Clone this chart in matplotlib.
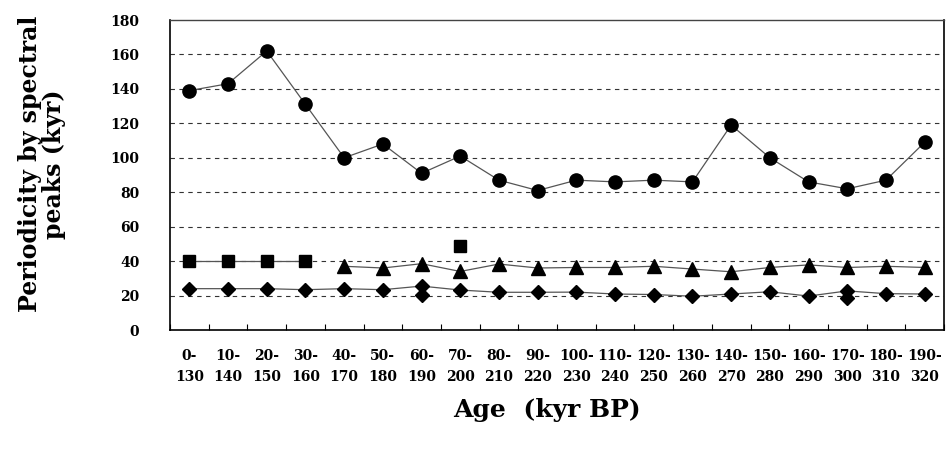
import matplotlib
matplotlib.use("Agg")
import matplotlib.pyplot as plt
import numpy as np

categories = ["0-\n130", "10-\n140", "20-\n150", "30-\n160", "40-\n170", "50-\n180",
              "60-\n190", "70-\n200", "80-\n210", "90-\n220", "100-\n230", "110-\n240",
              "120-\n250", "130-\n260", "140-\n270", "150-\n280", "160-\n290", "170-\n300",
              "180-\n310", "190-\n320"]

circles = [139, 143, 162, 131, 100, 108, 91, 101, 87, 81, 87, 86, 87, 86, 119, 100, 86, 82, 87, 109]
squares_idx = [0, 1, 2, 3]
squares = [40, 40, 40, 40]
square_extra_idx = [7]
square_extra = [48.5]
triangles_idx = list(range(4, 20))
triangles = [37, 36, 38.5, 34, 38.3, 36, 36.3, 36.3, 37, 35.4, 33.8, 36.3, 37.8, 36.3, 37, 36.3]
diamonds = [24, 24, 24, 23.4, 24, 23.4, 25.5, 23.2, 21.9, 21.9, 22, 20.9, 20.6, 19.6, 20.9,
            22.2, 19.7, 22.7, 21.1, 20.9]
diamond_extra_idx = [6, 17]
diamond_extra = [20.2, 18.5]

yticks = [0, 20, 40, 60, 80, 100, 120, 140, 160, 180]

plt.rcParams['font.family'] = ['DejaVu Serif']
plt.rcParams['font.weight'] = 'bold'

fig = plt.figure(figsize=(9.46, 4.53), dpi=100)
ax = fig.add_axes([170/946, 1-330/453, 774/946, 310/453])

x = np.arange(len(categories))
lc = '#555555'
ax.plot(x, circles, color=lc, lw=0.9, marker='o', ms=9.5, mfc='black', mec='black', zorder=3)
ax.plot(squares_idx, squares, color=lc, lw=0.9, marker='s', ms=8.5, mfc='black', mec='black', zorder=3)
ax.plot(square_extra_idx, square_extra, ls='none', marker='s', ms=8.5, mfc='black', mec='black', zorder=3)
ax.plot(triangles_idx, triangles, color=lc, lw=0.9, marker='^', ms=9.5, mfc='black', mec='black', zorder=3)
ax.plot(x, diamonds, color=lc, lw=0.9, marker='D', ms=7, mfc='black', mec='black', zorder=3)
ax.plot(diamond_extra_idx, diamond_extra, ls='none', marker='D', ms=7, mfc='black', mec='black', zorder=3)

ax.set_xlim(-0.5, len(categories) - 0.5)
ax.set_ylim(0, 180)
ax.set_yticks(yticks)
ax.set_yticklabels([str(v) for v in yticks], fontsize=10, fontweight='bold')
ax.tick_params(axis='y', length=0, pad=22)

ax.set_xticks(x)
ax.set_xticklabels(categories, fontsize=10, fontweight='bold', linespacing=1.6)
ax.set_xticks(np.arange(-0.5, len(categories) + 0.5, 1), minor=True)
ax.tick_params(axis='x', which='major', length=0, pad=14)
ax.tick_params(axis='x', which='minor', direction='in', length=4, width=0.8)

for v in yticks[1:-1]:
    ax.axhline(v, color='#333333', lw=0.8, ls=(0, (4, 4)), zorder=1)

for s in ['left', 'bottom', 'right']:
    ax.spines[s].set_linewidth(1.2)
    ax.spines[s].set_color('black')
ax.spines['top'].set_linewidth(1.0)
ax.spines['top'].set_color('#444444')

fig.text(547/946, 1-410/453, "Age  (kyr BP)", fontsize=18, fontweight='bold', ha='center', va='center')
fig.text(42/946, 1-164/453, "Periodicity by spectral\npeaks (kyr)", fontsize=17, fontweight='bold',
         ha='center', va='center', rotation=90, multialignment='center', linespacing=1.05)

fig.savefig("out.png", dpi=100)
